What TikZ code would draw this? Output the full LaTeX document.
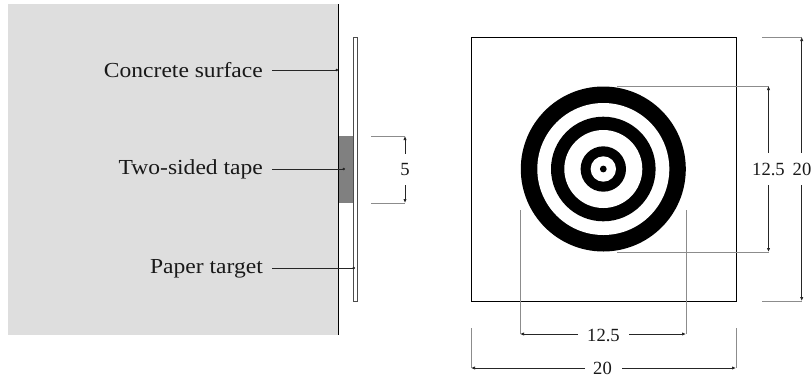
\documentclass[tikz,border=0pt]{standalone}
\usepackage{fontspec}
\setmainfont[FakeStretch=1.1]{Liberation Serif}
\newfontfamily\dimfont{Liberation Serif}
\usetikzlibrary{arrows.meta}
\tikzset{x=1pt,y=-1pt,
 lab/.style={font=\fontsize{21.4}{24}\selectfont,text=black!90,inner sep=0pt},
 dimlab/.style={font=\dimfont\fontsize{18.6}{20}\selectfont,text=black!90,inner sep=0pt},
 leader/.style={draw=black!85,line width=.8pt,-{Circle[length=2.4pt]}},
 ext/.style={draw=black!45,line width=.8pt},
 dimline/.style={draw=black!85,line width=.8pt,-{Latex[length=4pt,width=3.4pt]}}}
\begin{document}
\begin{tikzpicture}
\useasboundingbox (0,0) rectangle (811,381);
\fill[black!13] (8,4) rectangle (338,335);
\fill[black!50] (338,136) rectangle (352.7,203);
\coordinate (wallT) at (338,4); \coordinate (wallB) at (338,335);
\draw[line width=.9pt] (wallT) -- (wallB);
\draw[line width=.8pt,draw=black!70] (353,37) rectangle (357.5,301);
\draw[line width=.9pt] (471,37) rectangle (736,301);
% target
\foreach \r/\c in {82.5/black,66/white,52.3/black,39/white,22.7/black,12.7/white,3.4/black}
  \fill[\c] (603.3,169) circle[radius=\r];
% labels
\node[lab,anchor=east] (lc) at (263,70.5) {Concrete surface};
\node[lab,anchor=east] (lt) at (263,169.5) {Two-sided tape};
\node[lab,anchor=east] (lp) at (263,268.5) {Paper target};
\coordinate (ec) at (338,70); \coordinate (et) at (345,169); \coordinate (ep) at (355,268);
\draw[leader] (272,70) -- (ec);
\draw[leader] (272,169) -- (et);
\draw[leader] (272,268) -- (ep);
% dim 5
\draw[ext] (371,136) -- (405,136);
\draw[ext] (371,203) -- (405,203);
\node[dimlab] (d5) at (405,169) {5};
\draw[dimline] (405,153.5) -- (405,136);
\draw[dimline] (405,185) -- (405,203);
% bottom 12.5
\draw[ext] (520,210) -- (520,334);
\draw[ext] (686,210) -- (686,334);
\node[dimlab] (h1) at (603.5,335) {12.5};
\draw[dimline] (578,334) -- (520,334);
\draw[dimline] (629,334) -- (686,334);
% bottom 20
\draw[ext] (471,328) -- (471,368);
\draw[ext] (736,328) -- (736,368);
\node[dimlab] (h2) at (602.5,368) {20};
\draw[dimline] (585,368) -- (471,368);
\draw[dimline] (622,368) -- (736,368);
% right 12.5
\draw[ext] (617,86) -- (769,86);
\draw[ext] (617,252) -- (769,252);
\node[dimlab] (v1) at (768.5,169) {12.5};
\draw[dimline] (768.5,152.7) -- (768.5,86);
\draw[dimline] (768.5,185) -- (768.5,252);
% right 20
\draw[ext] (762,37) -- (802,37);
\draw[ext] (762,301) -- (802,301);
\node[dimlab] (v2) at (802,169) {20};
\draw[dimline] (801.7,152.7) -- (801.7,37);
\draw[dimline] (801.7,185) -- (801.7,301);
\end{tikzpicture}
\end{document}
